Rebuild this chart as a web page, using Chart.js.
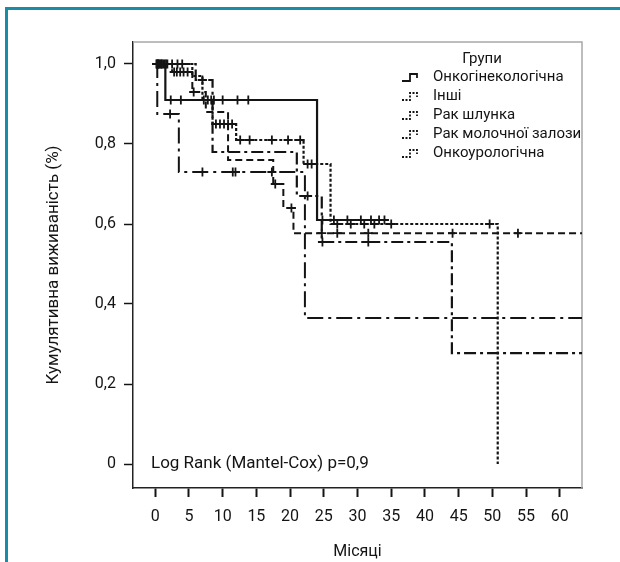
<!DOCTYPE html>
<html lang="uk">
<head>
<meta charset="UTF-8">
<title>Кумулятивна виживаність</title>
<script src="https://cdn.jsdelivr.net/npm/chart.js"></script>
<style>
  html, body { margin: 0; padding: 0; background: #fff; }
  #frame { position: absolute; left: 5px; top: 7px; width: 615px; height: 555px;
           border-top: 3px solid #1a8ca5; border-left: 3px solid #1a8ca5; box-sizing: border-box; }
  #wrap { position: absolute; left: 0; top: 0; width: 620px; height: 562px; }
</style>
</head>
<body>
<div id="frame"></div>
<div id="wrap"><canvas id="km" width="620" height="562"></canvas></div>
<script>
  // axis ticks
  const xTicks = [0, 5, 10, 15, 20, 25, 30, 35, 40, 45, 50, 55, 60];
  const yTicks = [0, 0.2, 0.4, 0.6, 0.8, 1.0];
  const yTickLabels = ['0', '0,2', '0,4', '0,6', '0,8', '1,0'];

  const groupNames = ['Онкогінекологічна', 'Інші', 'Рак шлунка', 'Рак молочної залози', 'Онкоурологічна'];

  // step curves: time of each drop (months) and survival after it
  const gynTimes = [0, 1.5, 24, 34];
  const gynSurv = [1, 0.91, 0.61, 0.61];
  const gynCensor = [0.2, 0.4, 0.6, 0.8, 1.0, 2.3, 3.8, 7.2, 7.8, 8.3, 8.7, 10, 12.2, 13.8, 24.8, 26.5, 28.5, 30.5, 32, 33.2, 34];

  const otherTimes = [0, 5.5, 7, 8.5, 12, 22, 26, 50.8];
  const otherSurv = [1, 0.97, 0.91, 0.85, 0.81, 0.75, 0.60, 0];
  const otherCensor = [0.5, 1.2, 1.8, 2.5, 3.3, 4, 9, 9.6, 10.2, 10.8, 11.4, 12.6, 14, 17.3, 19.7, 21.5, 22.6, 23.2, 27, 29, 31, 32.5, 35, 49.6];

  const stomachTimes = [0, 2.5, 5.5, 7.5, 10.8, 17.5, 19, 20.5, 64];
  const stomachSurv = [1, 0.98, 0.93, 0.88, 0.76, 0.70, 0.64, 0.577, 0.577];
  const stomachCensor = [0.2, 0.9, 1.6, 2.8, 3.2, 3.7, 4.2, 4.8, 5.7, 17.8, 20.2, 24.7, 27, 31.6, 44.1, 53.8];

  const breastTimes = [0, 0.3, 3.5, 22.2, 64];
  const breastSurv = [1, 0.875, 0.73, 0.365, 0.365];
  const breastCensor = [2.2, 7, 11.5, 11.9, 17.3];

  const uroTimes = [0, 6, 8.5, 21, 24.7, 44, 64];
  const uroSurv = [1, 0.96, 0.78, 0.67, 0.555, 0.277, 0.277];
  const uroCensor = [0.4, 1.4, 7, 22.6, 24.8, 31.6];

  const ink = '#141414';
  const dashes = [[], [3, 2], [7, 4], [16, 5, 3, 5], [12, 4, 3, 4]];
  const widths = [2.2, 2.2, 2, 2, 2.2];

  function levelAt(times, surv, t) {
    let s = surv[0];
    for (let i = 0; i < times.length; i++) if (times[i] <= t) s = surv[i];
    return s;
  }

  const curves = [
    [gynTimes, gynSurv, gynCensor],
    [otherTimes, otherSurv, otherCensor],
    [stomachTimes, stomachSurv, stomachCensor],
    [breastTimes, breastSurv, breastCensor],
    [uroTimes, uroSurv, uroCensor]
  ];

  const datasets = [];
  curves.forEach(function(c, i) {
    datasets.push({
      label: groupNames[i],
      data: c[0].map((t, k) => ({ x: t, y: c[1][k] })),
      showLine: true,
      stepped: 'before',
      borderColor: ink,
      borderWidth: widths[i],
      borderDash: dashes[i],
      pointRadius: 0,
      fill: false
    });
    datasets.push({
      label: groupNames[i] + ' цензуровані',
      data: c[2].map(t => ({ x: t, y: levelAt(c[0], c[1], t) })),
      showLine: false,
      pointStyle: 'cross',
      pointRadius: 4.5,
      borderColor: ink,
      borderWidth: 1.8
    });
  });

  const font = 'Roboto, "DejaVu Sans", sans-serif';

  const extras = {
    id: 'extras',
    beforeDatasetsDraw(chart) {
      const ctx = chart.ctx, a = chart.chartArea;
      ctx.save();
      ctx.strokeStyle = '#a8a8a8';
      ctx.lineWidth = 1.5;
      ctx.beginPath();
      ctx.moveTo(a.left, a.top);
      ctx.lineTo(a.right, a.top);
      ctx.lineTo(a.right, a.bottom);
      ctx.stroke();
      ctx.restore();
    },
    afterDraw(chart) {
      const ctx = chart.ctx, a = chart.chartArea;
      ctx.save();
      ctx.fillStyle = ink;
      ctx.textBaseline = 'middle';
      // legend
      ctx.font = '15px ' + font;
      ctx.textAlign = 'center';
      ctx.fillText('Групи', a.left + 349, a.top + 17);
      ctx.textAlign = 'left';
      groupNames.forEach(function(name, i) {
        const y = a.top + 35 + i * 19;
        const gx = a.left + 269;
        ctx.strokeStyle = ink;
        ctx.lineWidth = 1.8;
        ctx.setLineDash(i === 0 ? [] : [2, 1.5]);
        ctx.beginPath();
        ctx.moveTo(gx, y + 4);
        ctx.lineTo(gx + 8, y + 4);
        ctx.lineTo(gx + 8, y - 3);
        ctx.lineTo(gx + 15, y - 3);
        ctx.lineTo(gx + 15, y + 1);
        ctx.stroke();
        ctx.fillText(name, a.left + 300, y);
      });
      ctx.setLineDash([]);
      // test result
      ctx.font = '17px ' + font;
      ctx.fillText('Log Rank (Mantel-Cox) p=0,9', a.left + 18, a.bottom - 24);
      ctx.restore();
    }
  };

  new Chart(document.getElementById('km').getContext('2d'), {
    type: 'scatter',
    data: { datasets: datasets },
    plugins: [extras],
    options: {
      responsive: false,
      animation: false,
      layout: { padding: { left: 0, top: 42, right: 38, bottom: 0 } },
      plugins: { legend: { display: false }, tooltip: { enabled: false } },
      scales: {
        x: {
          type: 'linear',
          min: -3.3,
          max: 63.3,
          afterBuildTicks: s => { s.ticks = xTicks.map(v => ({ value: v })); },
          afterFit: s => { s.height = 74; },
          grid: { drawOnChartArea: false, tickLength: 9, tickColor: ink, tickWidth: 2 },
          border: { color: '#222', width: 1.5 },
          ticks: { color: ink, font: { family: font, size: 16 }, padding: 10, maxRotation: 0 },
          title: { display: true, text: 'Місяці', color: ink, font: { family: font, size: 16 }, padding: { top: 0, bottom: 0 } }
        },
        y: {
          type: 'linear',
          min: -0.06,
          max: 1.055,
          afterBuildTicks: s => { s.ticks = yTicks.map(v => ({ value: v })); },
          afterFit: s => { s.width = 133; },
          grid: { drawOnChartArea: false, tickLength: 9, tickColor: ink, tickWidth: 1.5 },
          border: { color: '#222', width: 1.5 },
          ticks: {
            color: ink, font: { family: font, size: 16 }, padding: 8,
            callback: v => yTickLabels[yTicks.findIndex(t => Math.abs(t - v) < 1e-6)]
          },
          title: { display: true, text: 'Кумулятивна виживаність (%)', color: ink, font: { family: font, size: 17 }, padding: { top: 44, bottom: 0 } }
        }
      }
    }
  });
</script>
</body>
</html>
